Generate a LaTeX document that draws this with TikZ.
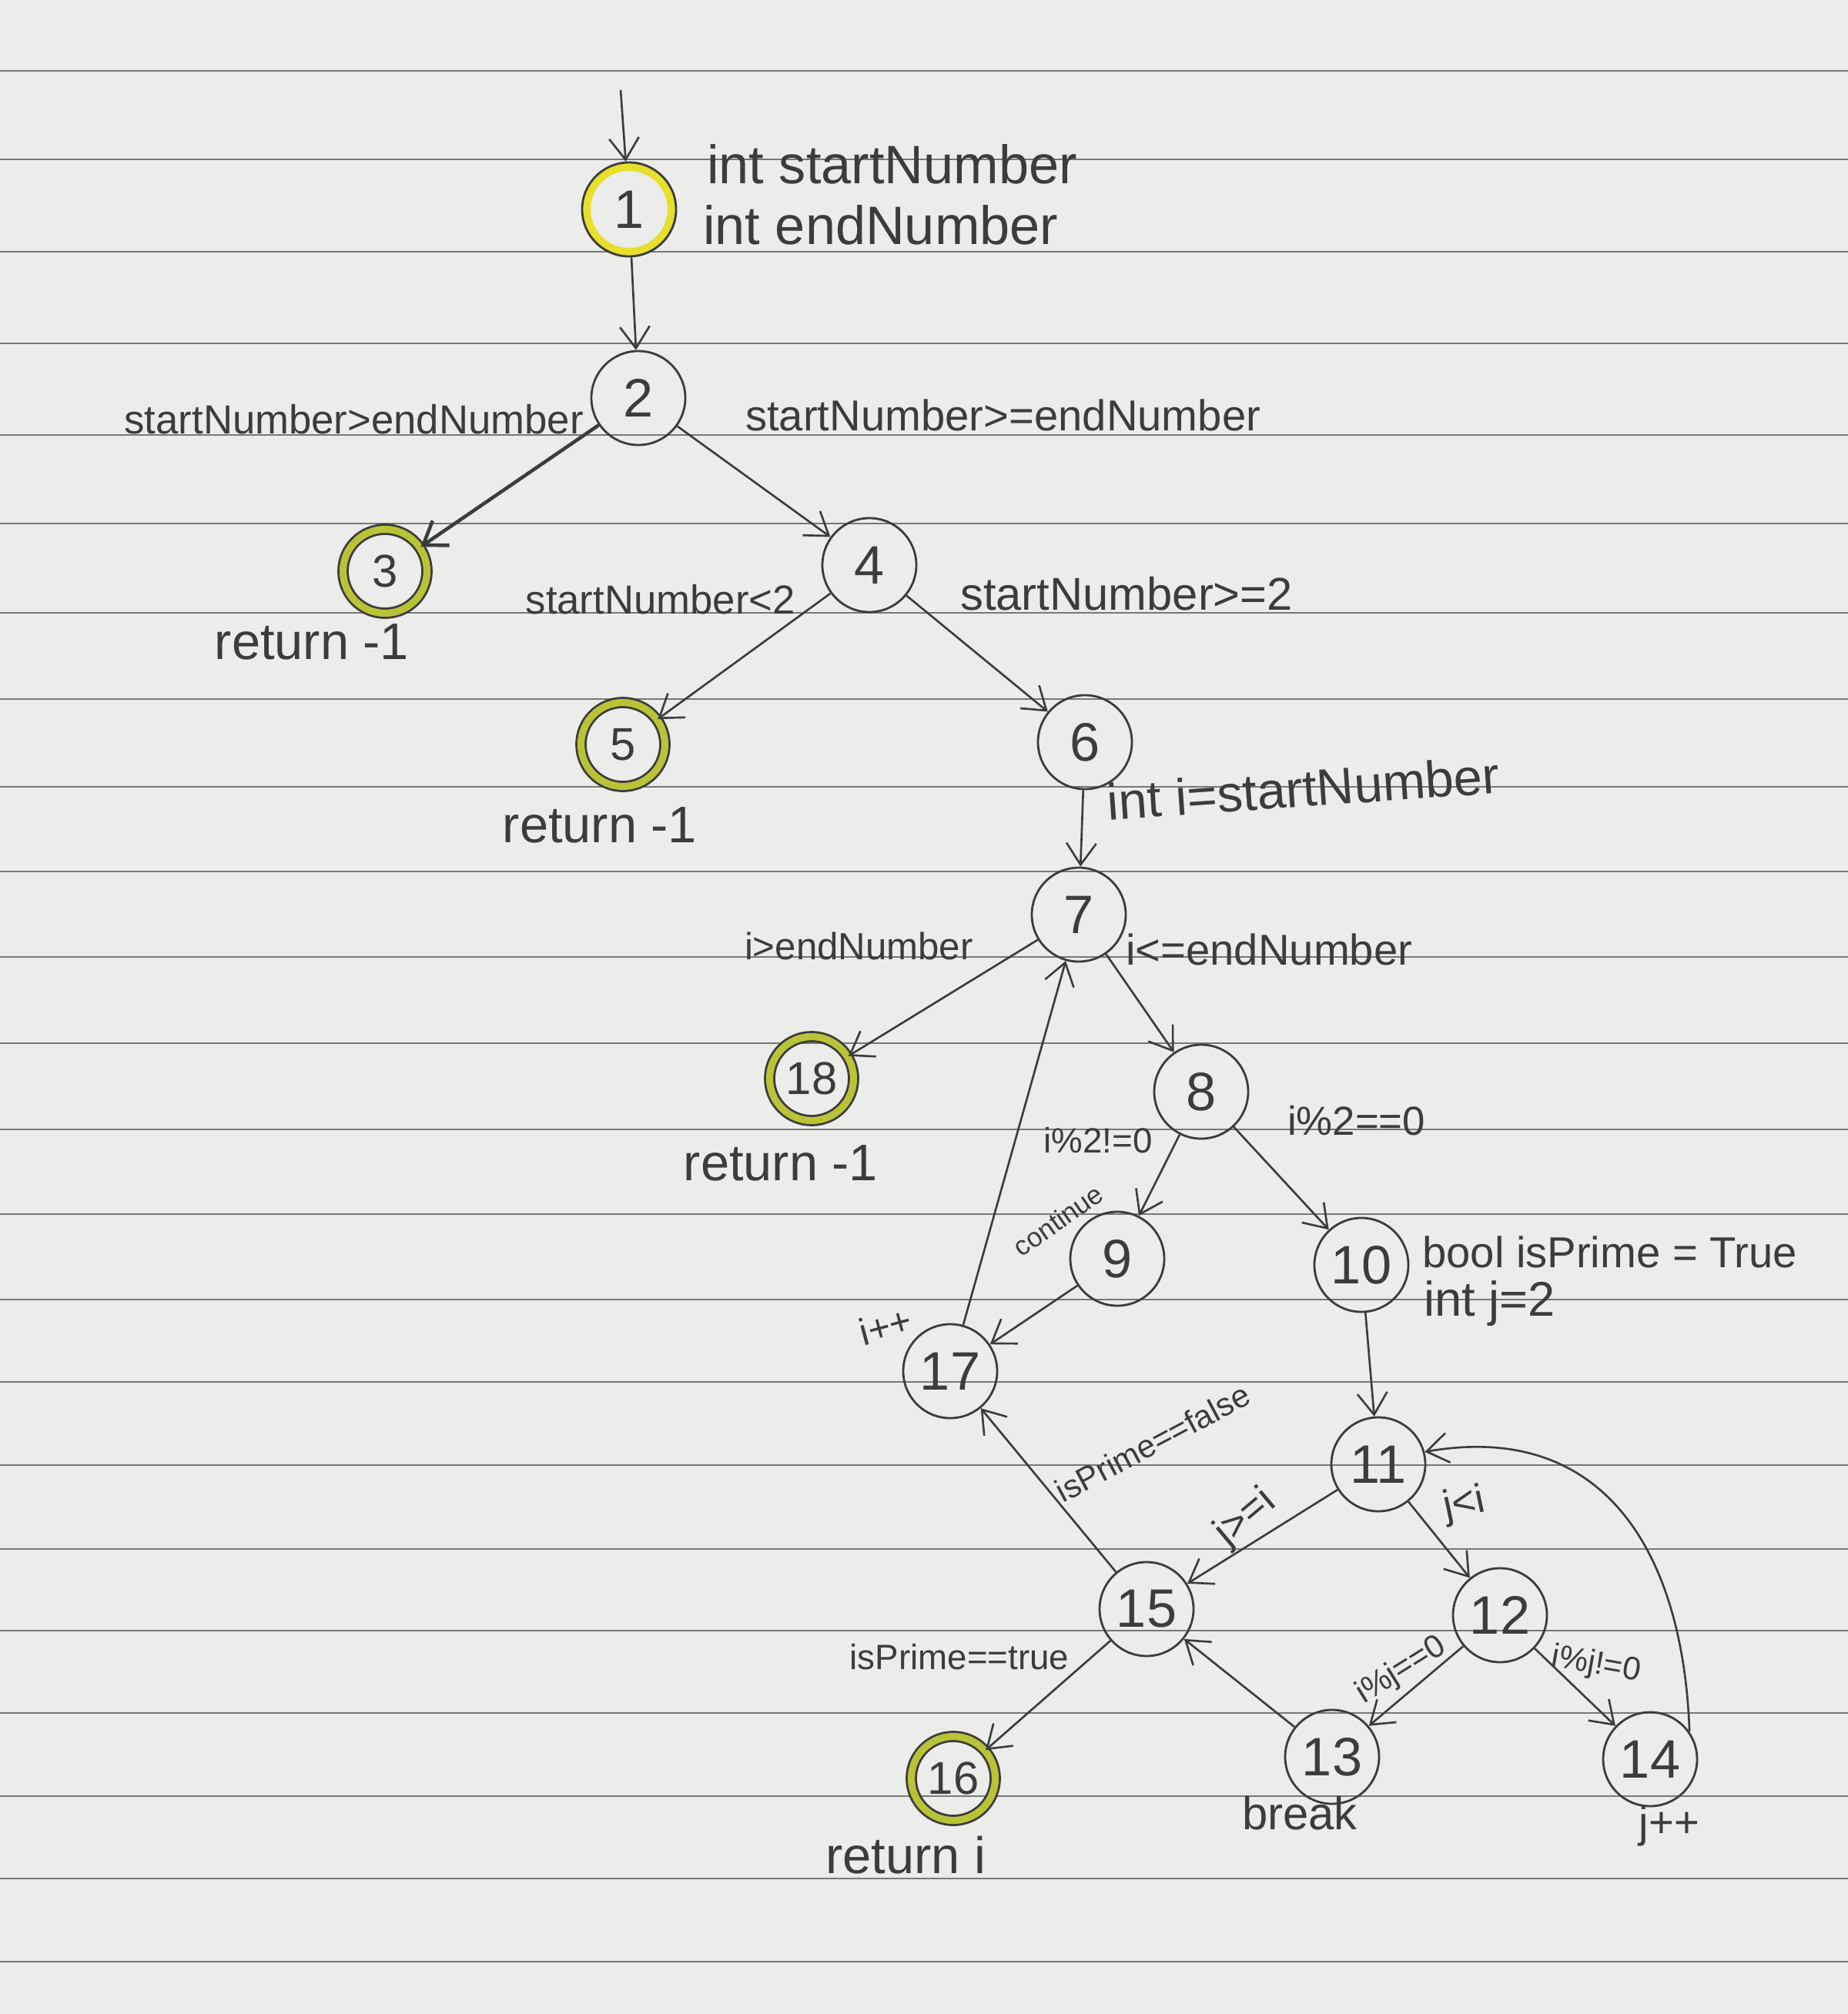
\documentclass[tikz,border=0pt]{standalone}
\usepackage{fontspec}
\setmainfont{Liberation Sans}
\usepackage{tikz}
\usetikzlibrary{arrows.meta}

\definecolor{pencil}{RGB}{60,60,60}
\definecolor{marker}{RGB}{185,195,55}
\definecolor{paper}{RGB}{236,236,234}
\definecolor{ruling}{RGB}{120,120,120}
\newcommand{\lsize}[1]{\fontsize{#1}{#1}\selectfont}

\tikzset{
        state/.style={circle, draw=pencil, line width=0.8pt, minimum size=1.22cm, inner sep=0pt, text=pencil, font=\lsize{20}},
        endstate/.style={state, minimum size=1.09cm, double=marker, double distance=2.6pt, font=\lsize{17}},
        startstate/.style={state, path picture={\draw[yellow!60!marker, line width=4pt] (path picture bounding box.center) circle (0.57);}},
        flow/.style={->, draw=pencil, line width=0.75pt},
        cond/.style={text=pencil, inner sep=1pt},
        >={Straight Barb[length=8pt,width=11pt]}
}

\begin{document}
\begin{tikzpicture}
        \useasboundingbox (0,0) rectangle (24,-26.16);
        \fill[paper] (0,0) rectangle (24,-26.16);
        \foreach \y in {0.92,2.07,3.27,4.46,5.65,6.80,7.96,9.08,10.22,11.32,12.43,13.55,14.67,15.77,16.88,17.95,19.03,20.12,21.18,22.25,23.33,24.40,25.48}
                \draw[ruling, line width=0.6pt] (0,-\y) -- (24,-\y);

        \node[startstate] (n1) at (8.17,-2.72) {1};
        \node[state] (n2) at (8.29,-5.17) {2};
        \node[endstate] (n3) at (5.00,-7.42) {3};
        \node[state] (n4) at (11.29,-7.34) {4};
        \node[endstate] (n5) at (8.09,-9.67) {5};
        \node[state] (n6) at (14.09,-9.64) {6};
        \node[state] (n7) at (14.01,-11.88) {7};
        \node[endstate] (n18) at (10.54,-14.01) {18};
        \node[state] (n8) at (15.60,-14.18) {8};
        \node[state] (n9) at (14.51,-16.35) {9};
        \node[state] (n10) at (17.68,-16.43) {10};
        \node[state] (n17) at (12.34,-17.81) {17};
        \node[state] (n11) at (17.90,-19.02) {11};
        \node[state] (n15) at (14.89,-20.90) {15};
        \node[state] (n12) at (19.48,-20.98) {12};
        \node[state] (n13) at (17.30,-22.82) {13};
        \node[state] (n14) at (21.43,-22.85) {14};
        \node[endstate] (n16) at (12.38,-23.10) {16};

        \node[cond, anchor=west, font=\lsize{20}] (t1a) at (9.14,-2.13) {int startNumber};
        \node[cond, anchor=west, font=\lsize{20}] (t1b) at (9.09,-2.92) {int endNumber};
        \node[cond, anchor=east, font=\lsize{15}] (t2a) at (7.62,-5.45) {startNumber>endNumber};
        \node[cond, anchor=west, font=\lsize{16}] (t2b) at (9.64,-5.39) {startNumber>=endNumber};
        \node[cond, font=\lsize{19}] (t3) at (4.05,-8.34) {return -1};
        \node[cond, anchor=east, font=\lsize{15}] (t4a) at (10.37,-7.79) {startNumber<2};
        \node[cond, anchor=west, font=\lsize{17}] (t4b) at (12.43,-7.71) {startNumber>=2};
        \node[cond, font=\lsize{19}] (t5) at (7.79,-10.72) {return -1};
        \node[cond, anchor=west, font=\lsize{19}, rotate=4] (t6) at (14.34,-10.42) {int i=startNumber};
        \node[cond, anchor=east, font=\lsize{14}] (t7a) at (12.68,-12.29) {i>endNumber};
        \node[cond, anchor=west, font=\lsize{16}] (t7b) at (14.58,-12.33) {i<=endNumber};
        \node[cond, font=\lsize{19}] (t18) at (10.14,-15.11) {return -1};
        \node[cond, font=\lsize{13}] (t8a) at (14.26,-14.81) {i\%2!=0};
        \node[cond, anchor=west, font=\lsize{15}] (t8b) at (16.68,-14.56) {i\%2==0};
        \node[cond, font=\lsize{10}, rotate=35] (t9) at (13.74,-15.85) {continue};
        \node[cond, anchor=west, font=\lsize{16}] (t10a) at (18.43,-16.26) {bool isPrime = True};
        \node[cond, anchor=west, font=\lsize{18}] (t10b) at (18.45,-16.93) {int j=2};
        \node[cond, font=\lsize{14}, rotate=15] (t17) at (11.50,-17.22) {i++};
        \node[cond, font=\lsize{12}, rotate=28] (t15a) at (14.97,-18.74) {isPrime==false};
        \node[cond, font=\lsize{15}, rotate=40] (t11a) at (16.18,-19.72) {j>=i};
        \node[cond, font=\lsize{15}, rotate=12] (t11b) at (19.02,-19.55) {j<i};
        \node[cond, font=\lsize{12}, rotate=32] (t12a) at (18.20,-21.70) {i\%j==0};
        \node[cond, font=\lsize{12}, rotate=-10] (t12b) at (20.73,-21.63) {i\%j!=0};
        \node[cond, font=\lsize{13}] (t15b) at (12.46,-21.52) {isPrime==true};
        \node[cond, font=\lsize{17}] (t13) at (16.88,-23.55) {break};
        \node[cond, font=\lsize{16}] (t14) at (21.68,-23.72) {j++};
        \node[cond, font=\lsize{19}] (t16) at (11.76,-24.10) {return i};

        \coordinate (entry) at (8.06,-1.17);
        \draw[flow] (entry) -- (n1);
        \draw[flow] (n1) -- (n2);
        \draw[flow, line width=1.3pt] (n2) -- (n3);
        \draw[flow] (n2) -- (n4);
        \draw[flow] (n4) -- (n5);
        \draw[flow] (n4) -- (n6);
        \draw[flow] (n6) -- (n7);
        \draw[flow] (n7) -- (n18);
        \draw[flow] (n7) -- (n8);
        \draw[flow] (n8) -- (n9);
        \draw[flow] (n8) -- (n10);
        \draw[flow] (n9) -- (n17);
        \draw[flow] (n17) -- (n7);
        \draw[flow] (n10) -- (n11);
        \draw[flow] (n11) -- (n15);
        \draw[flow] (n11) -- (n12);
        \draw[flow] (n12) -- (n13);
        \draw[flow] (n12) -- (n14);
        \draw[flow] (n14.35) to[out=92, in=10, looseness=1.2] (n11.15);
        \draw[flow] (n13) -- (n15);
        \draw[flow] (n15) -- (n17);
        \draw[flow] (n15) -- (n16);
\end{tikzpicture}
\end{document}
